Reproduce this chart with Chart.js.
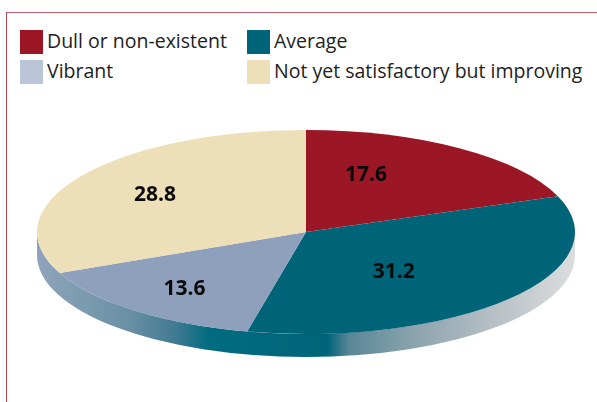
<!DOCTYPE html>
<html>
<head>
<meta charset="utf-8">
<style>
    html, body { margin: 0; padding: 0; background: #fff; }
    #wrap { position: relative; width: 597px; height: 402px; overflow: hidden; }
    #frame { position: absolute; left: 6px; top: 12px; width: 600px; height: 400px;
             border-left: 1px solid #b9404e; border-top: 1px solid #c4606b; }
    #legend { position: absolute; left: 20px; top: 30px; width: 575px; height: 60px;
              display: grid; grid-template-columns: 227px auto; grid-auto-rows: 30px;
              font: 19.5px "Open Sans", sans-serif; color: #222; }
    .item { display: flex; align-items: flex-start; white-space: nowrap; height: 24px; line-height: 22px; }
    .swatch { width: 23px; height: 24px; margin-right: 4px; flex: none; }
    canvas { position: absolute; left: 0; top: 0; }
</style>
</head>
<body>
<div id="wrap">
    <div id="frame"></div>
    <div id="legend"></div>
    <canvas id="pie" width="597" height="402"></canvas>
</div>
<script src="https://cdn.jsdelivr.net/npm/chart.js@4/dist/chart.umd.min.js"></script>
<script>
const categories = ['Dull or non-existent', 'Average', 'Vibrant', 'Not yet satisfactory but improving'];
const shares = [17.6, 31.2, 13.6, 28.8];
const sliceColors = ['#9b1726', '#006479', '#8fa0bd', '#eddfb8'];
const legendColors = ['#9b1726', '#006479', '#bcc4d8', '#eddfb8'];

const radiusX = 269;
const radiusY = 102;
const rimDepth = 23;
// hand placed labels, relative to the middle of each slice
const labelNudge = [[-32, -7], [-34, 0], [-19, 10], [-16, -4]];

const legend = document.getElementById('legend');
categories.forEach((name, i) => {
    const item = document.createElement('div');
    item.className = 'item';
    const swatch = document.createElement('span');
    swatch.className = 'swatch';
    swatch.style.background = legendColors[i];
    item.appendChild(swatch);
    item.appendChild(document.createTextNode(name));
    legend.appendChild(item);
});

const tiltPlugin = {
    id: 'tilt',
    beforeDatasetsDraw: (chart) => {
        const ctx = chart.ctx;
        const arc = chart.getDatasetMeta(0).data[0];
        const left = arc.x - radiusX;
        const right = arc.x + radiusX;

        const rim = ctx.createLinearGradient(left, 0, right, 0);
        rim.addColorStop(0, '#8fa3bb');
        rim.addColorStop(0.08, '#7d9cb0');
        rim.addColorStop(0.17, '#6a90a4');
        rim.addColorStop(0.26, '#3f7a90');
        rim.addColorStop(0.32, '#006c80');
        rim.addColorStop(0.54, '#006479');
        rim.addColorStop(0.58, '#5a8798');
        rim.addColorStop(0.70, '#8aa3ad');
        rim.addColorStop(0.85, '#b8c0c6');
        rim.addColorStop(1, '#dcdedd');

        ctx.save();
        ctx.beginPath();
        ctx.ellipse(arc.x, arc.y, radiusX, radiusY, 0, 0, Math.PI);
        ctx.lineTo(left, arc.y + rimDepth);
        ctx.ellipse(arc.x, arc.y + rimDepth, radiusX, radiusY, 0, Math.PI, 0, true);
        ctx.closePath();
        ctx.fillStyle = rim;
        ctx.fill();
        ctx.restore();

        ctx.save();
        ctx.translate(arc.x, arc.y);
        ctx.scale(radiusX / arc.outerRadius, radiusY / arc.outerRadius);
        ctx.translate(-arc.x, -arc.y);
    },
    afterDatasetsDraw: (chart) => {
        const ctx = chart.ctx;
        ctx.restore();

        ctx.save();
        ctx.font = 'bold 21px "Open Sans", sans-serif';
        ctx.fillStyle = '#0a0a0a';
        ctx.textAlign = 'center';
        ctx.textBaseline = 'middle';
        chart.getDatasetMeta(0).data.forEach((arc, i) => {
            const mid = (arc.startAngle + arc.endAngle) / 2;
            const x = arc.x + Math.cos(mid) * radiusX * 0.6 + labelNudge[i][0];
            const y = arc.y + Math.sin(mid) * radiusY * 0.6 + labelNudge[i][1];
            ctx.fillText(shares[i].toFixed(1), x, y);
        });
        ctx.restore();
    }
};

new Chart(document.getElementById('pie'), {
    type: 'pie',
    data: {
        labels: categories,
        datasets: [{
            data: shares,
            backgroundColor: sliceColors,
            borderWidth: 0,
        }]
    },
    options: {
        responsive: false,
        animation: false,
        layout: { padding: { left: 15, right: 0, top: 62, bottom: 0 } },
        plugins: { legend: { display: false }, tooltip: { enabled: false } }
    },
    plugins: [tiltPlugin]
});
</script>
</body>
</html>
